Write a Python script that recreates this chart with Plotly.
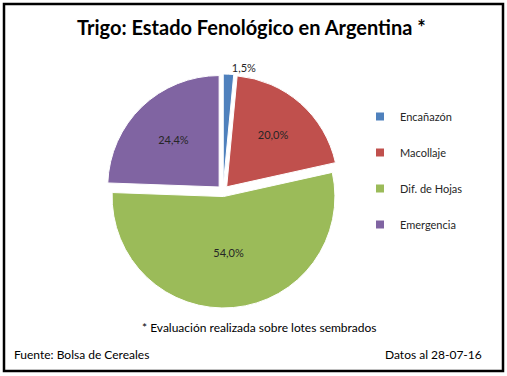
import plotly.graph_objects as go

categories = ["Encañazón", "Macollaje", "Dif. de Hojas", "Emergencia"]
values = [1.5, 20.0, 54.0, 24.4]
colors = ["#4F81BD", "#C0504D", "#9BBB59", "#8064A2"]

W, H = 507, 376
FONT = "Lato"

fig = go.Figure()
fig.add_trace(go.Pie(
    labels=categories, values=values, sort=False, direction="clockwise", rotation=0,
    marker=dict(colors=colors, line=dict(color="white", width=1)),
    pull=[0.05, 0.05, 0.05, 0.05],
    texttemplate="%{value:.1f}%", textposition=["outside", "inside", "inside", "inside"],
    insidetextorientation="horizontal",
    textfont=dict(family=FONT, size=11, color="#262626"),
    showlegend=False, hoverinfo="label+value",
    domain=dict(x=[106 / W, 340 / W], y=[(H - 309) / H, (H - 73) / H]),
))
for c, col in zip(categories, colors):
    fig.add_trace(go.Scatter(x=[None], y=[None], mode="markers", name=c, legendgroup=c,
                             marker=dict(symbol="square", size=8, color=col)))

fig.update_layout(
    width=W, height=H, margin=dict(l=0, r=0, t=0, b=0),
    paper_bgcolor="white", plot_bgcolor="white", separators=",.",
    xaxis=dict(visible=False), yaxis=dict(visible=False),
    legend=dict(x=360 / W, y=(H - 102) / H, xanchor="left", yanchor="top",
                font=dict(family=FONT, size=11, color="#262626"),
                tracegroupgap=17, itemwidth=30, bgcolor="rgba(0,0,0,0)"),
    shapes=[dict(type="rect", xref="paper", yref="paper", x0=4 / W, x1=503 / W,
                 y0=(H - 371) / H, y1=(H - 4) / H, line=dict(color="black", width=2.5))],
    annotations=[
        dict(text="<b>Trigo: Estado Fenológico en Argentina *</b>", x=251 / W, y=(H - 27) / H,
             xref="paper", yref="paper", showarrow=False, xanchor="center", yanchor="middle",
             font=dict(family=FONT, size=20, color="black")),
        dict(text="* Evaluación realizada sobre lotes sembrados", x=259 / W, y=(H - 327) / H,
             xref="paper", yref="paper", showarrow=False, xanchor="center", yanchor="middle",
             font=dict(family=FONT, size=12, color="black")),
        dict(text="Fuente: Bolsa de Cereales", x=12 / W, y=(H - 354) / H,
             xref="paper", yref="paper", showarrow=False, xanchor="left", yanchor="middle",
             font=dict(family=FONT, size=12, color="black")),
        dict(text="Datos al 28-07-16", x=484 / W, y=(H - 354) / H,
             xref="paper", yref="paper", showarrow=False, xanchor="right", yanchor="middle",
             font=dict(family=FONT, size=12, color="black")),
    ],
)
fig.write_html("out.html", config={"displayModeBar": False},
               post_script="document.body.style.margin='0';document.body.style.overflow='hidden';")
